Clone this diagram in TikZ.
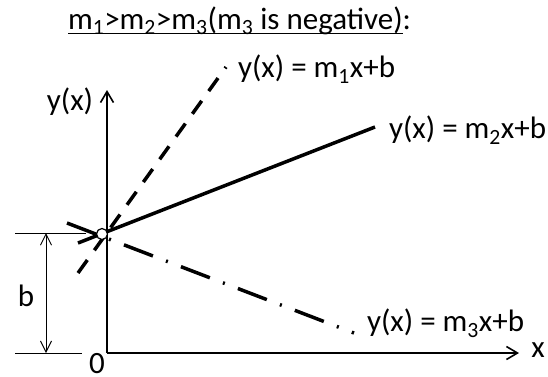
\documentclass[tikz,border=0pt]{standalone}
\usepackage{fontspec}
\setmainfont{Carlito}
\usetikzlibrary{arrows.meta}
\begin{document}
\begin{tikzpicture}[x=1pt,y=-1pt]
\tikzset{
  txt/.style={font=\fontsize{31}{37}\selectfont, inner sep=0pt, outer sep=0pt},
  axisline/.style={line width=2pt, -{Straight Barb[length=11pt,width=13pt,line width=1.6pt]}},
  dimline/.style={line width=1pt},
  dimarrow/.style={line width=1pt, {Straight Barb[length=11pt,width=11pt]}-{Straight Barb[length=11pt,width=11pt]}},
  mline/.style={line width=3.5pt},
  mdash/.style={mline, dash pattern=on 16pt off 12pt},
  mdashdot/.style={mline, dash pattern=on 31pt off 14pt on 2pt off 14pt},
}
\useasboundingbox (0,0) rectangle (548,376);
\fill[white] (0,0) rectangle (548,376);

% title
\node[txt, anchor=base west] (title) at (68,29) {m\textsubscript{1}>m\textsubscript{2}>m\textsubscript{3}(m\textsubscript{3} is negative)};
\node[txt, anchor=base west] (colon) at (title.base east) {:};
\draw[line width=1.8pt] ([yshift=-4.5pt]title.base west) -- ([yshift=-4.5pt]title.base east);

% axes
\coordinate (O) at (107,353);
\coordinate (ytop) at (107,90);
\coordinate (xend) at (519,353);
\draw[axisline] (O) -- (ytop);
\draw[axisline] (O) -- (xend);
\node[txt] (ylab) at (70,102) {y(x)};
\node[txt] (xlab) at (538,350) {x};
\node[txt] (zero) at (97,363.5) {0};

% dimension b
\coordinate (dt1) at (15,233);
\coordinate (dt2) at (86,233);
\coordinate (db1) at (15,353);
\coordinate (db2) at (82,353);
\draw[dimline] (dt1) -- (dt2);
\draw[dimline] (db1) -- (db2);
\coordinate (da1) at (46,233);
\coordinate (da2) at (46,353);
\draw[dimarrow] (da1) -- (da2);
\node[txt] (blab) at (26,296) {b};

% lines
\coordinate (m1a) at (78,273);
\coordinate (m1b) at (226,67);
\coordinate (m2a) at (78,243);
\coordinate (m2b) at (375,127);
\coordinate (m3a) at (67,223);
\coordinate (m3b) at (354,333);
\draw[mdash] (m1a) -- (m1b);
\draw[mline] (m2a) -- (m2b);
\draw[mdashdot] (m3a) -- (m3b);

% intersection circle
\node[circle, draw, fill=white, line width=1.2pt, minimum size=11pt, inner sep=0pt] (P) at (102,234) {};

% labels
\node[txt, anchor=west] (l1) at (238,69) {y(x) = m\textsubscript{1}x+b};
\node[txt, anchor=west] (l2) at (389,130) {y(x) = m\textsubscript{2}x+b};
\node[txt, anchor=west] (l3) at (367,323) {y(x) = m\textsubscript{3}x+b};
\end{tikzpicture}
\end{document}
